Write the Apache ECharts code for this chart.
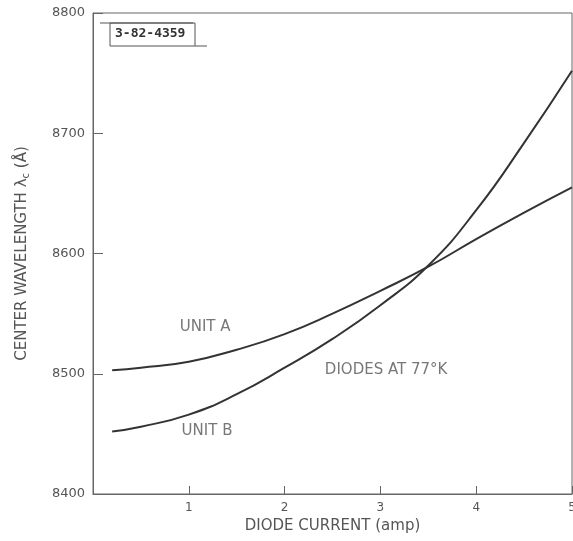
<!DOCTYPE html>
<html>
<head>
<meta charset="utf-8">
<script src="https://cdn.jsdelivr.net/npm/echarts@6/dist/echarts.min.js"></script>
<style>
  html, body { margin: 0; padding: 0; background: #fff; }
  #chart { width: 573px; height: 541px; }
</style>
</head>
<body>
<div id="chart"></div>
<script>
// diode current (amp) vs center wavelength (Å)
const currentA = [0.2, 0.5, 1.0, 1.5, 2.0, 2.5, 3.0, 3.5, 4.0, 4.5, 5.0];
const unitA = [8503, 8505, 8510, 8520, 8533, 8550, 8569, 8589, 8612, 8634, 8655];
const currentB = [0.2, 0.5, 1.0, 1.5, 2.0, 2.5, 3.0, 3.5, 4.0, 4.5, 5.0];
const unitB = [8452, 8456, 8466, 8483, 8505, 8529, 8557, 8590, 8636, 8692, 8752];

const xTicks = ['', '1', '2', '3', '4', '5'];
const yTicks = ['8400', '8500', '8600', '8700', '8800'];

// annotations placed in data space
const notes = [
    [1.17, 8539, 'UNIT A'],
    [1.19, 8452, 'UNIT B'],
    [3.06, 8503, 'DIODES AT 77°K']
];

const ink = '#333';
const textGray = '#555';
const font = 'DejaVu Sans';

const chart = echarts.init(document.getElementById('chart'));

const option = {
    animation: false,
    backgroundColor: '#fff',
    textStyle: { fontFamily: font },
    grid: {
        left: 93, top: 13, right: 1, bottom: 47,
        outerBoundsMode: 'none',
        show: true, borderColor: '#666', borderWidth: 1
    },
    xAxis: {
        type: 'value',
        min: 0, max: 5, interval: 1,
        name: 'DIODE CURRENT (amp)',
        nameLocation: 'middle',
        nameGap: 25,
        nameTextStyle: { color: textGray, fontSize: 15, fontFamily: font },
        axisLine: { lineStyle: { color: '#666' } },
        axisTick: { inside: true, length: 8, lineStyle: { color: '#666' } },
        splitLine: { show: false },
        axisLabel: {
            color: textGray, fontSize: 12, margin: 8,
            formatter: v => xTicks[Math.round(v)]
        }
    },
    yAxis: {
        type: 'value',
        min: 8400, max: 8800, interval: 100,
        name: 'CENTER WAVELENGTH λ{sub|c} (Å)',
        nameLocation: 'middle',
        nameGap: 62,
        nameTextStyle: {
            color: textGray, fontSize: 15, fontFamily: font,
            rich: { sub: { fontSize: 10, color: textGray, verticalAlign: 'bottom', padding: [7, 0, 0, 0] } }
        },
        axisLine: { lineStyle: { color: '#666' } },
        axisTick: { inside: true, length: 10, lineStyle: { color: '#666' } },
        splitLine: { show: false },
        axisLabel: {
            color: textGray, fontSize: 13, margin: 8,
            formatter: v => yTicks[Math.round((v - 8400) / 100)]
        }
    },
    series: [
        {
            name: 'UNIT A',
            type: 'line',
            smooth: 0.5,
            symbol: 'none',
            lineStyle: { color: ink, width: 2 },
            data: currentA.map((c, i) => [c, unitA[i]])
        },
        {
            name: 'UNIT B',
            type: 'line',
            smooth: 0.5,
            symbol: 'none',
            lineStyle: { color: ink, width: 2 },
            data: currentB.map((c, i) => [c, unitB[i]])
        },
        {
            type: 'scatter',
            symbolSize: 0,
            silent: true,
            data: notes.map(n => ({ value: [n[0], n[1]], name: n[2] })),
            label: {
                show: true,
                position: 'inside',
                formatter: p => p.name,
                color: textGray,
                fontSize: 15,
                fontFamily: font
            }
        }
    ],
    graphic: [
        // figure number stamp in the top-left corner
        { type: 'line', shape: { x1: 100, y1: 23, x2: 193, y2: 23 }, style: { stroke: '#555', lineWidth: 1 } },
        { type: 'rect', shape: { x: 110, y: 23, width: 85, height: 23 }, style: { fill: 'none', stroke: '#555', lineWidth: 1 } },
        { type: 'line', shape: { x1: 195, y1: 46, x2: 207, y2: 46 }, style: { stroke: '#555', lineWidth: 1 } },
        {
            type: 'text', left: 115, top: 27,
            style: { text: '3-82-4359', fill: '#333', fontSize: 13, fontWeight: 'bold', fontFamily: 'DejaVu Sans Mono' }
        }
    ]
};

chart.setOption(option);
</script>
</body>
</html>
